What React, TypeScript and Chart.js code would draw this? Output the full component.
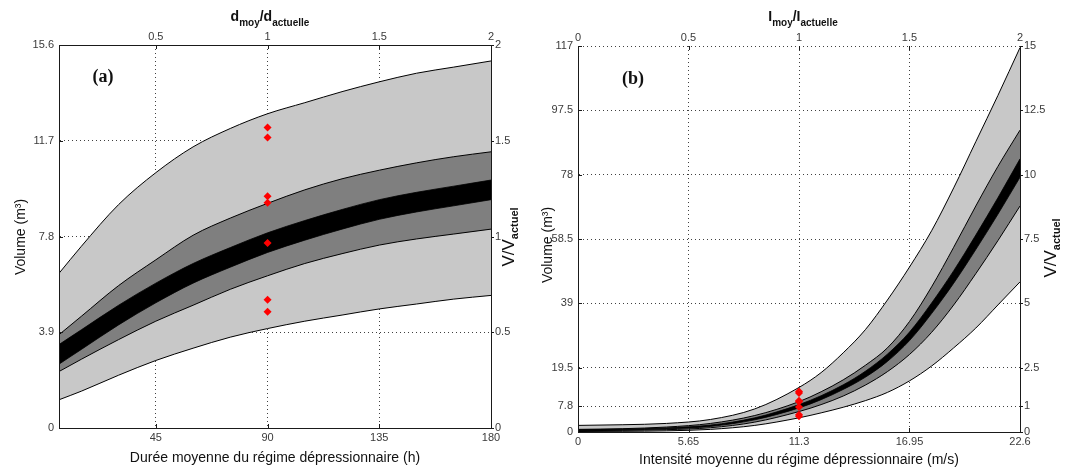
import React, { useEffect, useRef } from "react";
import { Chart, registerables } from "chart.js";

Chart.register(...registerables);

// ---------------- Panel (a) : durée moyenne ----------------
const aHours = [6, 15, 30, 45, 60, 75, 90, 105, 120, 135, 150, 165, 180];
const aOuterUpper = [6.3, 7.4, 9.1, 10.4, 11.45, 12.2, 12.8, 13.25, 13.7, 14.1, 14.45, 14.7, 14.95];
const aOuterLower = [1.15, 1.5, 2.15, 2.75, 3.25, 3.7, 4.05, 4.35, 4.6, 4.85, 5.05, 5.25, 5.4];
const aInnerUpper = [3.8, 4.55, 5.8, 6.85, 7.85, 8.55, 9.15, 9.7, 10.15, 10.5, 10.8, 11.05, 11.25];
const aInnerLower = [2.3, 2.8, 3.6, 4.35, 5.0, 5.65, 6.2, 6.7, 7.1, 7.45, 7.7, 7.9, 8.1];
const aMedianHigh = [3.4, 4.0, 5.0, 5.9, 6.7, 7.35, 7.95, 8.45, 8.9, 9.3, 9.6, 9.85, 10.1];
const aMedianLow = [2.6, 3.2, 4.2, 5.1, 5.9, 6.55, 7.15, 7.65, 8.1, 8.5, 8.8, 9.05, 9.3];
const aObservedX = 90;
const aXRange = [6, 180];
const aYRange = [0, 15.6];
const aBottomTicks = [45, 90, 135, 180];
const aBottomLabels = ["45", "90", "135", "180"];
const aTopTicks = [45, 90, 135, 180];
const aTopLabels = ["0.5", "1", "1.5", "2"];
const aLeftTicks = [0, 3.9, 7.8, 11.7, 15.6];
const aLeftLabels = ["0", "3.9", "7.8", "11.7", "15.6"];
const aRightTicks = [0, 3.9, 7.8, 11.7, 15.6];
const aRightLabels = ["0", "0.5", "1", "1.5", "2"];

// ---------------- Panel (b) : intensité moyenne ----------------
const bSpeed = [0, 2.26, 4.52, 6.78, 9.04, 11.3, 12.43, 13.56, 14.69, 15.82, 16.95, 18.08, 19.21, 20.34, 21.47, 22.6];
const bOuterUpper = [2.0, 2.2, 2.6, 3.8, 7.0, 13.5, 18, 24, 31, 40, 50, 61, 74, 88, 102, 116.5];
const bOuterLower = [0.15, 0.2, 0.35, 0.8, 2.0, 4.3, 5.8, 7.5, 9.5, 12, 15.5, 20, 25.5, 31.5, 38.5, 45.5];
const bInnerUpper = [0.8, 1.0, 1.5, 2.6, 5.0, 9.2, 12.2, 15.8, 20.2, 25.5, 33.5, 44, 56, 68.5, 80.5, 91.5];
const bInnerLower = [0.4, 0.5, 0.7, 1.3, 3.0, 6.2, 8.3, 10.9, 14.2, 18.3, 23.5, 30.2, 38.5, 48, 58, 68.5];
const bMedianHigh = [0.7, 0.85, 1.25, 2.1, 4.3, 8.3, 11.0, 14.3, 18.4, 23.6, 30.3, 39.1, 48.9, 59.7, 71, 82.8];
const bMedianLow = [0.5, 0.65, 0.95, 1.7, 3.7, 7.3, 9.8, 12.9, 16.6, 21.4, 27.7, 35.9, 45.1, 55.3, 66, 77.2];
const bObservedX = 11.3;
const bXRange = [0, 22.6];
const bYRange = [0, 117];
const bBottomTicks = [0, 5.65, 11.3, 16.95, 22.6];
const bBottomLabels = ["0", "5.65", "11.3", "16.95", "22.6"];
const bTopTicks = [0, 5.65, 11.3, 16.95, 22.6];
const bTopLabels = ["0", "0.5", "1", "1.5", "2"];
const bLeftTicks = [0, 7.8, 19.5, 39, 58.5, 78, 97.5, 117];
const bLeftLabels = ["0", "7.8", "19.5", "39", "58.5", "78", "97.5", "117"];
const bRightTicks = [0, 7.8, 19.5, 39, 58.5, 78, 97.5, 117];
const bRightLabels = ["0", "1", "2.5", "5", "7.5", "10", "12.5", "15"];

// observed volumes (same in both panels)
const observedVolumes = [12.24, 11.83, 9.44, 9.17, 7.54, 5.22, 4.74];

// ---------------- styling ----------------
const FONT = "'Liberation Sans', Arial, Helvetica, sans-serif";
const SERIF = "'Liberation Serif', 'Times New Roman', serif";
const TICK_FONT = { family: FONT, size: 11 };
const TICK_COLOR = "#3a3a3a";
const GRID_COLOR = "#404040";
const AXIS_COLOR = "#1a1a1a";
const LIGHT = "#c8c8c8";
const DARK = "#7f7f7f";

function curve(xs: number[], ys: number[], order: number, fillColor?: string, width = 1) {
  return {
    data: xs.map((x, i) => ({ x, y: ys[i] })),
    borderColor: "#000",
    borderWidth: width,
    pointRadius: 0,
    pointHoverRadius: 0,
    cubicInterpolationMode: "monotone",
    order,
    fill: fillColor ? "-1" : false,
    backgroundColor: fillColor || "transparent",
  };
}

function observed(x: number) {
  return {
    data: observedVolumes.map((v) => ({ x, y: v })),
    showLine: false,
    pointStyle: "rectRot",
    pointRadius: 4,
    pointHoverRadius: 4,
    pointBackgroundColor: "#ff0000",
    pointBorderColor: "#ff0000",
    pointBorderWidth: 0,
    order: 0,
  };
}

function fixedTicks(values: number[], labels: string[], padding: number) {
  return {
    afterBuildTicks: (s: any) => {
      s.ticks = values.map((v) => ({ value: v }));
    },
    ticks: {
      autoSkip: false,
      maxRotation: 0,
      minRotation: 0,
      padding,
      color: TICK_COLOR,
      font: TICK_FONT,
      callback: (_v: any, i: number) => labels[i],
    },
  };
}

type Part = { t: string; f: string; dy?: number };
type TextItem = { parts: Part[]; x: number; y: number; rot?: boolean };

function textPlugin(items: TextItem[], offsetX: number) {
  return {
    id: "richText",
    afterDraw(chart: any) {
      const ctx = chart.ctx;
      for (const it of items) {
        ctx.save();
        ctx.translate(it.x - offsetX, it.y);
        if (it.rot) ctx.rotate(-Math.PI / 2);
        ctx.textAlign = "left";
        ctx.textBaseline = "alphabetic";
        ctx.fillStyle = "#111";
        let total = 0;
        for (const p of it.parts) {
          ctx.font = p.f;
          total += ctx.measureText(p.t).width;
        }
        let x = -total / 2;
        for (const p of it.parts) {
          ctx.font = p.f;
          ctx.fillText(p.t, x, p.dy || 0);
          x += ctx.measureText(p.t).width;
        }
        ctx.restore();
      }
    },
  };
}

const tickMarks = {
  id: "tickMarks",
  afterDraw(chart: any) {
    const { ctx, chartArea: a } = chart;
    const L = 4;
    ctx.save();
    ctx.strokeStyle = AXIS_COLOR;
    ctx.lineWidth = 1;
    const sides: [string, string][] = [["x", "bottom"], ["xTop", "top"], ["y", "left"], ["yRight", "right"]];
    for (const [id, side] of sides) {
      const s = chart.scales[id];
      if (!s) continue;
      for (const t of s.ticks) {
        const p = Math.round(s.getPixelForValue(t.value)) + 0.5;
        ctx.beginPath();
        if (side === "bottom") {
          ctx.moveTo(p, a.bottom);
          ctx.lineTo(p, a.bottom - L);
        } else if (side === "top") {
          ctx.moveTo(p, a.top);
          ctx.lineTo(p, a.top + L);
        } else if (side === "left") {
          ctx.moveTo(a.left, p);
          ctx.lineTo(a.left + L, p);
        } else {
          ctx.moveTo(a.right, p);
          ctx.lineTo(a.right + 3, p);
        }
        ctx.stroke();
      }
    }
    ctx.restore();
  },
};

type PanelSpec = {
  offsetX: number;
  w: number;
  h: number;
  area: { left: number; right: number; top: number; bottom: number };
  xRange: number[];
  yRange: number[];
  bottom: [number[], string[]];
  top: [number[], string[]];
  left: [number[], string[]];
  right: [number[], string[]];
  topBorder: boolean;
  datasets: any[];
  texts: TextItem[];
};

function panelConfig(p: PanelSpec) {
  const gridOn = { display: true, drawTicks: false, color: GRID_COLOR, lineWidth: 1, z: -1 };
  const gridOff = { display: false, drawTicks: false };
  const border = (show: boolean) => ({ display: show, color: AXIS_COLOR, width: 1, dash: [1, 3], z: 1 });
  return {
    type: "line",
    data: { datasets: p.datasets },
    options: {
      responsive: false,
      animation: false,
      devicePixelRatio: 1,
      events: [],
      layout: { padding: 0, autoPadding: false },
      plugins: { legend: { display: false }, tooltip: { enabled: false }, filler: { propagate: false } },
      scales: {
        x: {
          type: "linear",
          position: "bottom",
          min: p.xRange[0],
          max: p.xRange[1],
          ...fixedTicks(p.bottom[0], p.bottom[1], 3),
          grid: gridOn,
          border: border(true),
          afterFit: (s: any) => {
            s.height = p.h - p.area.bottom;
          },
        },
        xTop: {
          type: "linear",
          position: "top",
          min: p.xRange[0],
          max: p.xRange[1],
          ...fixedTicks(p.top[0], p.top[1], 1),
          grid: gridOff,
          border: border(p.topBorder),
          afterFit: (s: any) => {
            s.height = p.area.top;
          },
        },
        y: {
          type: "linear",
          position: "left",
          min: p.yRange[0],
          max: p.yRange[1],
          ...fixedTicks(p.left[0], p.left[1], 5),
          grid: gridOn,
          border: border(true),
          afterFit: (s: any) => {
            s.width = p.area.left;
          },
        },
        yRight: {
          type: "linear",
          position: "right",
          min: p.yRange[0],
          max: p.yRange[1],
          ...fixedTicks(p.right[0], p.right[1], 4),
          grid: gridOff,
          border: border(true),
          afterFit: (s: any) => {
            s.width = p.w - p.area.right;
          },
        },
      },
    },
    plugins: [textPlugin(p.texts, p.offsetX), tickMarks],
  };
}

const R14 = `14px ${FONT}`;
const R17 = `17px ${FONT}`;
const B14 = `bold 14px ${FONT}`;
const B10 = `bold 10px ${FONT}`;
const B11 = `bold 11px ${FONT}`;
const LETTER = `bold 18px ${SERIF}`;

const panelA: PanelSpec = {
  offsetX: 0,
  w: 532,
  h: 470,
  area: { left: 59, right: 491, top: 45, bottom: 428 },
  xRange: aXRange,
  yRange: aYRange,
  bottom: [aBottomTicks, aBottomLabels],
  top: [aTopTicks, aTopLabels],
  left: [aLeftTicks, aLeftLabels],
  right: [aRightTicks, aRightLabels],
  topBorder: true,
  datasets: [
    curve(aHours, aOuterLower, 10),
    curve(aHours, aOuterUpper, 10, LIGHT),
    curve(aHours, aInnerLower, 8),
    curve(aHours, aInnerUpper, 8, DARK),
    curve(aHours, aMedianLow, 6, undefined, 0.8),
    curve(aHours, aMedianHigh, 6, "#000", 0.8),
    observed(aObservedX),
  ],
  texts: [
    { parts: [{ t: "Durée moyenne du régime dépressionnaire (h)", f: R14 }], x: 275, y: 462 },
    {
      parts: [
        { t: "d", f: B14 },
        { t: "moy", f: B10, dy: 5 },
        { t: "/d", f: B14 },
        { t: "actuelle", f: B10, dy: 5 },
      ],
      x: 270,
      y: 21,
    },
    { parts: [{ t: "Volume (m³)", f: R14 }], x: 25, y: 237, rot: true },
    { parts: [{ t: "V/V", f: R17 }, { t: "actuel", f: B11, dy: 4 }], x: 514, y: 237, rot: true },
    { parts: [{ t: "(a)", f: LETTER }], x: 103, y: 82 },
  ],
};

const panelB: PanelSpec = {
  offsetX: 532,
  w: 533,
  h: 470,
  area: { left: 46, right: 488, top: 46, bottom: 432 },
  xRange: bXRange,
  yRange: bYRange,
  bottom: [bBottomTicks, bBottomLabels],
  top: [bTopTicks, bTopLabels],
  left: [bLeftTicks, bLeftLabels],
  right: [bRightTicks, bRightLabels],
  topBorder: false,
  datasets: [
    curve(bSpeed, bOuterLower, 10),
    curve(bSpeed, bOuterUpper, 10, LIGHT),
    curve(bSpeed, bInnerLower, 8),
    curve(bSpeed, bInnerUpper, 8, DARK),
    curve(bSpeed, bMedianLow, 6, undefined, 0.8),
    curve(bSpeed, bMedianHigh, 6, "#000", 0.8),
    observed(bObservedX),
  ],
  texts: [
    { parts: [{ t: "Intensité moyenne du régime dépressionnaire (m/s)", f: R14 }], x: 799, y: 464 },
    {
      parts: [
        { t: "I", f: B14 },
        { t: "moy", f: B10, dy: 5 },
        { t: "/I", f: B14 },
        { t: "actuelle", f: B10, dy: 5 },
      ],
      x: 803,
      y: 21,
    },
    { parts: [{ t: "Volume (m³)", f: R14 }], x: 552, y: 245, rot: true },
    { parts: [{ t: "V/V", f: R17 }, { t: "actuel", f: B11, dy: 4 }], x: 1056, y: 248, rot: true },
    { parts: [{ t: "(b)", f: LETTER }], x: 633, y: 84 },
  ],
};

function Panel({ spec }: { spec: PanelSpec }) {
  const ref = useRef<HTMLCanvasElement>(null);
  useEffect(() => {
    const chart = new Chart(ref.current as HTMLCanvasElement, panelConfig(spec) as any);
    return () => chart.destroy();
  }, [spec]);
  return (
    <canvas
      ref={ref}
      width={spec.w}
      height={spec.h}
      style={{ position: "absolute", left: spec.offsetX, top: 0, width: spec.w, height: spec.h }}
    />
  );
}

export default function App() {
  return (
    <div style={{ position: "fixed", left: 0, top: 0, width: 1065, height: 470, background: "#fff", overflow: "hidden" }}>
      <Panel spec={panelA} />
      <Panel spec={panelB} />
    </div>
  );
}
